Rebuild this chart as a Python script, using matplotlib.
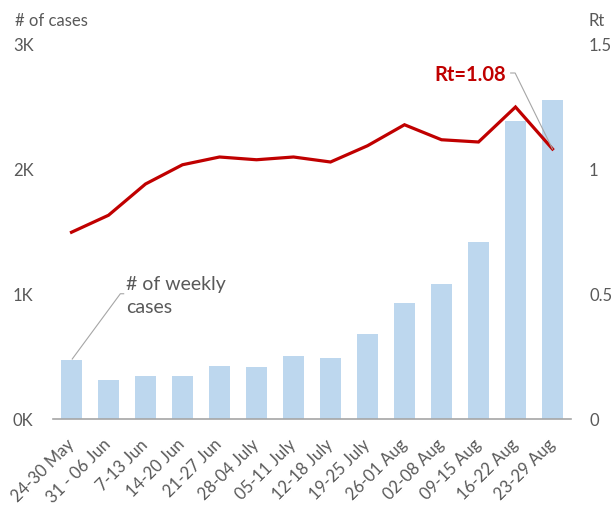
import matplotlib
matplotlib.use("Agg")
import matplotlib.pyplot as plt

plt.rcParams['font.family'] = ['Lato', 'DejaVu Sans']

weeks = ["24-30 May", "31 - 06 Jun", "7-13 Jun", "14-20 Jun", "21-27 Jun", "28-04 July",
         "05-11 July", "12-18 July", "19-25 July", "26-01 Aug", "02-08 Aug", "09-15 Aug",
         "16-22 Aug", "23-29 Aug"]
weekly_cases = [475, 311, 348, 348, 422, 414, 502, 486, 683, 930, 1084, 1418, 2382, 2550]
rt_values = [0.747, 0.815, 0.940, 1.017, 1.048, 1.037, 1.048, 1.028, 1.093, 1.177, 1.117, 1.108, 1.248, 1.08]
left_ticks = [0, 1000, 2000, 3000]
left_ticklabels = ["0K", "1K", "2K", "3K"]
right_ticks = [0, 0.5, 1, 1.5]
right_ticklabels = ["0", "0.5", "1", "1.5"]

grey = "#595959"
fig = plt.figure(figsize=(6.14, 5.06), dpi=100)
ax = fig.add_axes([53/614, 86/506, 518/614, 375/506])
x = list(range(len(weeks)))
ax.bar(x, weekly_cases, width=0.59, color="#BDD7EE", zorder=2)
ax.set_xlim(-0.5, len(weeks) - 0.5)
ax.set_ylim(0, 3000)
ax.set_yticks(left_ticks)
ax.set_yticklabels(left_ticklabels)
ax.set_xticks(x)
ax.set_xticklabels(weeks, rotation=45, ha="right", va="center", rotation_mode="anchor")
ax.tick_params(axis="y", length=0, pad=14, labelsize=12, labelcolor=grey)
ax.tick_params(axis="x", length=0, pad=16, labelsize=12, labelcolor=grey)
for s in ["top", "left", "right"]:
    ax.spines[s].set_visible(False)
ax.spines["bottom"].set_color("#A6A6A6")
ax.spines["bottom"].set_linewidth(1.2)
ax.spines["bottom"].set_zorder(3)

ax2 = ax.twinx()
ax2.plot(x, rt_values, color="#C00000", lw=2.3, zorder=3, solid_joinstyle="miter")
ax2.set_ylim(0, 1.5)
ax2.set_yticks(right_ticks)
ax2.set_yticklabels(right_ticklabels)
ax2.tick_params(axis="y", length=0, pad=13, labelsize=12, labelcolor=grey)
for s in ["top", "left", "right", "bottom"]:
    ax2.spines[s].set_visible(False)

# annotations
ax.plot([0.02, 1.32, 1.41], [weekly_cases[0] + 5, 1002, 1002], color="#A6A6A6", lw=0.8, zorder=4)
ax.text(1.48, 990, "# of weekly\ncases", ha="left", va="center", fontsize=14,
        color=grey, linespacing=1.4)
ax2.plot([13, 11.99, 11.87], [rt_values[-1], 1.384, 1.384], color="#A6A6A6", lw=0.8, zorder=4)
ax2.text(11.75, 1.378, "Rt=1.08", ha="right", va="center", fontsize=14.5, color="#C00000",
         fontweight="bold")

fig.text(15/614, 1 - 21/506, "# of cases", ha="left", va="center", fontsize=12, color=grey)
fig.text(589/614, 1 - 21/506, "Rt", ha="left", va="center", fontsize=12, color=grey)

fig.savefig("out.png", dpi=100)
